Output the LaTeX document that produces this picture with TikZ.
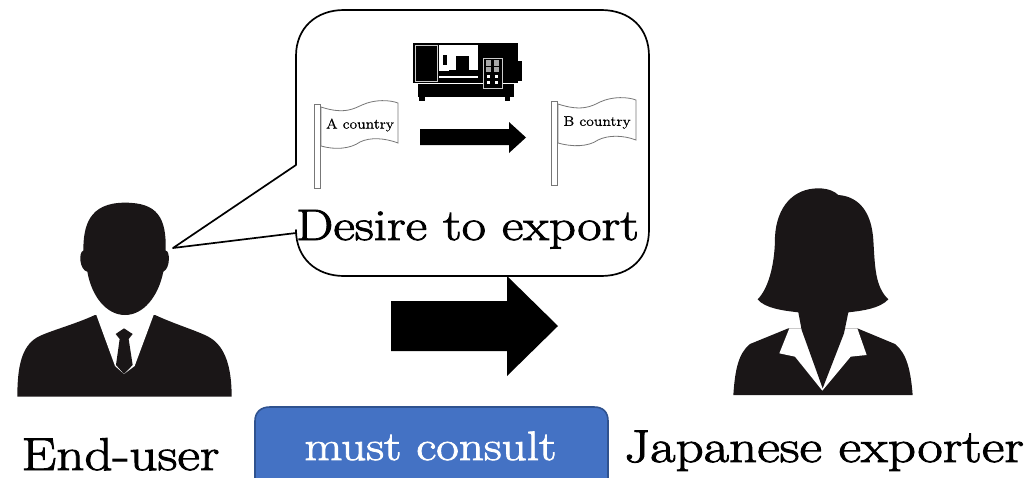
\documentclass[tikz,border=0pt]{standalone}
\usepackage{fontspec}
\setmainfont{Latin Modern Roman}[FakeStretch=1.2,FakeBold=2]
\newfontfamily\flagfont{Latin Modern Roman}[FakeStretch=1.12,FakeBold=0.8]
\newfontfamily\labelfont{Latin Modern Roman}[FakeStretch=1.2,FakeBold=2]
\usetikzlibrary{calc}
\definecolor{sil}{HTML}{1A1617}
\definecolor{boxblue}{HTML}{4472C4}
\definecolor{boxedge}{HTML}{2F528F}
\definecolor{flagline}{HTML}{777777}
\tikzset{
  bigtext/.style={font=\fontsize{44}{46}\selectfont,inner sep=0pt,anchor=base,text=black},
  labeltext/.style={font=\labelfont\fontsize{46}{48}\selectfont,inner sep=0pt,anchor=base,text=black},
  flagtext/.style={font=\flagfont\fontsize{14}{16}\selectfont,inner sep=0pt,text=black},
  silhouette/.style={fill=sil,draw=none},
  flagshape/.style={draw=flagline,line width=0.8pt,fill=white}
}
\begin{document}
\begin{tikzpicture}[x=1pt,y=-1pt]
\useasboundingbox (0,0) rectangle (1026,477);
% bubble
\draw[line width=1.7pt,line join=round,fill=white] (296,165) -- (296,56)
  .. controls (296,28) and (316,10) .. (344,10) -- (601,10)
  .. controls (630,10) and (649,28) .. (649,56) -- (649,230)
  .. controls (649,258) and (630,276) .. (601,276) -- (344,276)
  .. controls (316,276) and (296,258) .. (296,230) -- (296,233) -- (173,248) -- cycle;
% machine
\fill (413,43) rectangle (518,83);
\fill (518,61) rectangle (522,81);
\fill (418,84) rectangle (514,97);
\fill (419,97) rectangle (425,101);
\fill (505,97) rectangle (510,101);
\draw[white!80!black,line width=0.9pt] (415,45) rectangle (437,81);
\fill[white] (439,45) rectangle (478,71);
\fill[white] (439,76) rectangle (478,77.5);
\fill (456,56) rectangle (469,70);
\fill (449,70) rectangle (478,72);
\fill (443,55) rectangle (447,65);
\draw[white!80!black,line width=0.8pt,fill=black] (483,58) rectangle (502,88);
\foreach \gx in {485.5,493.5}{
  \fill[white!65!black] (\gx,60) rectangle +(5.5,6);
  \fill[white!65!black] (\gx,67) rectangle +(5.5,5);
  \fill[white] (\gx+1,75) rectangle +(3,3);
  \fill[white] (\gx+1,81) rectangle +(3,3);
}
% flag A
\draw[flagshape] (321,107) .. controls (345,115) and (355,108) .. (362,105)
  .. controls (375,99) and (390,100) .. (398,103) -- (398,143)
  .. controls (385,138) and (370,137) .. (360,142)
  .. controls (350,149) and (335,150) .. (321,146) -- cycle;
\draw[flagshape] (314,104) rectangle (320.5,188);
\node[flagtext] (acountry) at (360,125) {A country};
% flag B
\draw[flagshape] (558,104) .. controls (582,112) and (592,106) .. (600,102)
  .. controls (613,96) and (628,97) .. (636,100) -- (636,140)
  .. controls (623,135) and (608,135) .. (598,140)
  .. controls (588,147) and (572,147) .. (558,143) -- cycle;
\draw[flagshape] (551,101) rectangle (557.5,185);
\node[flagtext] (bcountry) at (597,122.5) {B country};
% small arrow
\fill (420,129) -- (509,129) -- (509,122) -- (526,137.5) -- (509,153) -- (509,145) -- (420,145) -- cycle;
% big arrow
\fill (391,301) -- (507,301) -- (507,276) -- (558,326) -- (507,376) -- (507,351) -- (391,351) -- cycle;
\node[bigtext] (desire) at (467.5,240) {Desire to export};
% man
\begin{scope}[shift={(0,190)},x=0.33333pt,y=-0.33333pt]
\path[silhouette] (52,620) .. controls (52,530) and (65,470) .. (110,443)
  .. controls (140,425) and (220,405) .. (285,375) -- (465,375)
  .. controls (530,405) and (600,425) .. (630,443)
  .. controls (675,470) and (695,530) .. (695,620) -- cycle;
\fill[white] (288,372) -- (345,528) -- (372,552) -- (404,528) -- (462,372) -- cycle;
\path[silhouette] (372,415) -- (398,432) -- (386,447) -- (398,525) -- (372,552) -- (348,525) -- (359,447) -- (347,432) -- cycle;
\path[silhouette] (250,182) .. controls (250,110) and (265,38) .. (375,38)
  .. controls (470,38) and (500,80) .. (497,182)
  .. controls (510,180) and (512,235) .. (490,245)
  .. controls (475,320) and (430,375) .. (375,375)
  .. controls (320,375) and (275,320) .. (262,245)
  .. controls (238,240) and (235,185) .. (250,182) -- cycle;
\end{scope}
% woman
\begin{scope}[shift={(720,180)},x=0.33333pt,y=-0.33333pt]
\path[silhouette] (40,645) .. controls (45,570) and (55,520) .. (90,492)
  -- (205,445) -- (412,445) -- (525,492)
  .. controls (560,520) and (572,570) .. (578,645) -- cycle;
\fill[white] (208,445) -- (178,520) -- (225,530) -- (307,632) -- (392,530) -- (440,525) -- (412,445) -- cycle;
\path[silhouette] (295,25) .. controls (325,25) and (345,35) .. (355,45)
  .. controls (420,50) and (455,100) .. (460,180)
  .. controls (465,260) and (465,320) .. (505,358)
  .. controls (480,385) and (430,392) .. (385,397)
  -- (372,460) -- (308,625) -- (245,450) -- (235,397)
  .. controls (190,392) and (135,385) .. (113,358)
  .. controls (150,320) and (165,240) .. (165,170)
  .. controls (170,80) and (220,25) .. (295,25) -- cycle;
\end{scope}
% blue box
\draw[fill=boxblue,draw=boxedge,line width=1.6pt] (270,407) -- (594,407)
  .. controls (603,407) and (608,412) .. (608,421) -- (608,490) -- (255,490) -- (255,421)
  .. controls (255,412) and (261,407) .. (270,407) -- cycle;
\node[bigtext,text=white,font=\fontsize{41}{44}\selectfont] (consult) at (430.5,460) {must consult};
\node[labeltext] (enduser) at (120.5,470) {End-user};
\node[labeltext] (japanese) at (824,462) {Japanese exporter};
\end{tikzpicture}
\end{document}
